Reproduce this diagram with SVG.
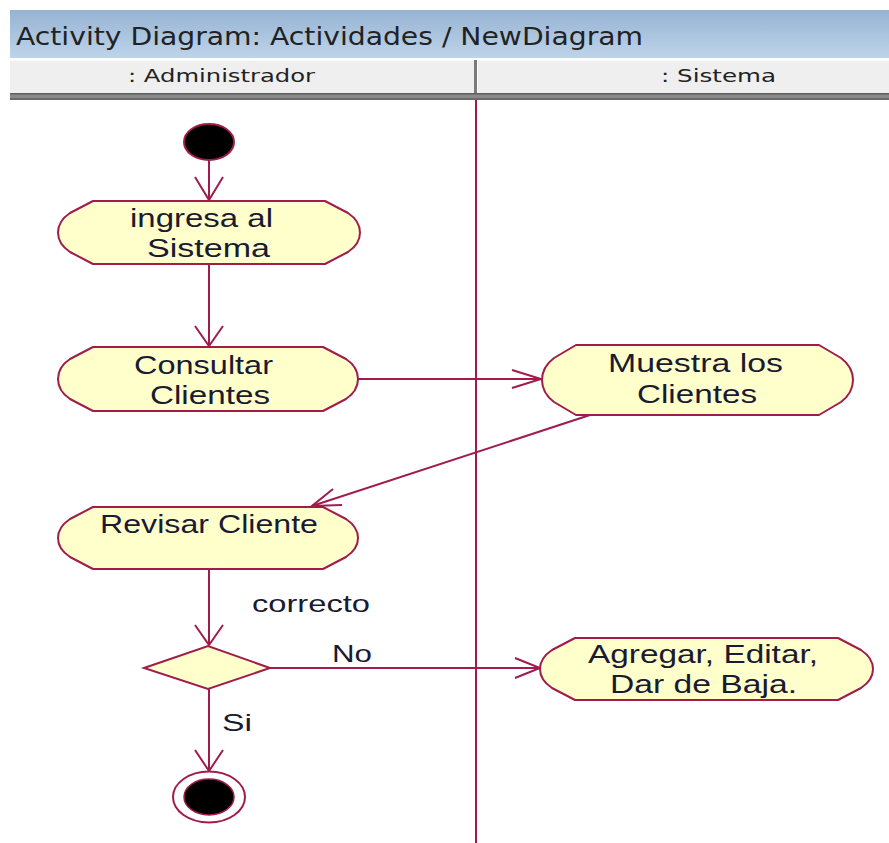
<svg xmlns="http://www.w3.org/2000/svg" width="889" height="843" viewBox="0 0 889 843">
<defs>
<linearGradient id="tb" x1="0" y1="0" x2="0" y2="1">
<stop offset="0" stop-color="#96b3d2"/>
<stop offset="1" stop-color="#bed4ea"/>
</linearGradient>
<style>
.act{fill:#ffffcc;stroke:#a01c4c;stroke-width:2;stroke-linejoin:round}
.ln{fill:none;stroke:#a01c4c;stroke-width:2}
.t{font-family:"Liberation Sans",Arial,sans-serif;font-size:26px;fill:#1a1a30}
.lb{font-family:"Liberation Sans",Arial,sans-serif;font-size:24px;fill:#1a1a30}
.hd{font-family:"DejaVu Sans","Open Sans",sans-serif;fill:#222}
</style>
</defs>
<rect width="889" height="843" fill="#fff"/>
<g id="titlebar">
<rect x="10" y="10" width="879" height="48" fill="url(#tb)"/>
<text class="hd" x="16" y="45" font-size="24" textLength="627" lengthAdjust="spacingAndGlyphs">Activity Diagram: Actividades / NewDiagram</text>
</g>
<g id="header">
<rect x="10" y="60" width="879" height="34" fill="#efefef"/>
<line x1="10" y1="60.5" x2="889" y2="60.5" stroke="#fafafa"/>
<rect x="474" y="60" width="3" height="34" fill="#7a7a7a"/>
<rect x="477" y="60" width="1" height="34" fill="#fff"/>
<rect x="10" y="93" width="879" height="7" fill="#8a8a8a"/>
<rect x="10" y="93" width="879" height="1.5" fill="#5e5e5e"/>
<rect x="10" y="98" width="879" height="2" fill="#6a6a6a"/>
<text class="hd" x="128" y="82" font-size="18" textLength="187" lengthAdjust="spacingAndGlyphs">: Administrador</text>
<text class="hd" x="661" y="82" font-size="18" textLength="115" lengthAdjust="spacingAndGlyphs">: Sistema</text>
</g>
<g id="swimlane">
<line x1="476" y1="100" x2="476" y2="843" stroke="#a01c4c" stroke-width="2"/>
</g>
<g id="connectors">
<line class="ln" x1="209" y1="160" x2="209" y2="200"/>
<polyline class="ln" points="195,177 209,200 223,177"/>
<line class="ln" x1="209" y1="264" x2="209" y2="346"/>
<polyline class="ln" points="195,326 209,346 223,326"/>
<line class="ln" x1="358" y1="379" x2="541" y2="379"/>
<polyline class="ln" points="512,370 541,379 512,388"/>
<line class="ln" x1="590" y1="415" x2="312" y2="506"/>
<polyline class="ln" points="333,489 312,506 342,505"/>
<line class="ln" x1="209" y1="569" x2="209" y2="645"/>
<polyline class="ln" points="195,625 209,645 223,625"/>
<line class="ln" x1="270" y1="668" x2="540" y2="668"/>
<polyline class="ln" points="515,658 540,668 515,678"/>
<line class="ln" x1="209" y1="689" x2="209" y2="771"/>
<polyline class="ln" points="195,750 209,771 223,750"/>
<text class="lb" x="252" y="612" textLength="118" lengthAdjust="spacingAndGlyphs">correcto</text>
<text class="lb" x="332" y="662" textLength="40" lengthAdjust="spacingAndGlyphs">No</text>
<text class="lb" x="222" y="731" textLength="30" lengthAdjust="spacingAndGlyphs">Si</text>
</g>
<g id="start">
<ellipse cx="209" cy="142" rx="25" ry="18" fill="#000" stroke="#a01c4c" stroke-width="2"/>
</g>
<g id="ingresa">
<path class="act" d="M93,201 H325 L348,213 Q360,221 360,232.5 Q360,244 348,252 L325,264 H93 L70,252 Q58,244 58,232.5 Q58,221 70,213 Z"/>
<text class="t" x="130" y="227" textLength="143" lengthAdjust="spacingAndGlyphs">ingresa al</text>
<text class="t" x="147" y="257" textLength="123" lengthAdjust="spacingAndGlyphs">Sistema</text>
</g>
<g id="consultar">
<path class="act" d="M93,347 H323 L346,359 Q358,367 358,379 Q358,391 346,399 L323,411 H93 L70,399 Q58,391 58,379 Q58,367 70,359 Z"/>
<text class="t" x="134" y="374" textLength="139" lengthAdjust="spacingAndGlyphs">Consultar</text>
<text class="t" x="150" y="404" textLength="120" lengthAdjust="spacingAndGlyphs">Clientes</text>
</g>
<g id="muestra">
<path class="act" d="M576,345 H819 L841,358 Q853,367 853,380 Q853,393 841,402 L819,415 H576 L554,402 Q542,393 542,380 Q542,367 554,358 Z"/>
<text class="t" x="608" y="372" textLength="175" lengthAdjust="spacingAndGlyphs">Muestra los</text>
<text class="t" x="637" y="403" textLength="120" lengthAdjust="spacingAndGlyphs">Clientes</text>
</g>
<g id="revisar">
<path class="act" d="M93,507 H323 L346,519 Q358,527 358,538 Q358,549 346,557 L323,569 H93 L70,557 Q58,549 58,538 Q58,527 70,519 Z"/>
<text class="t" x="100" y="533" textLength="218" lengthAdjust="spacingAndGlyphs">Revisar Cliente</text>
</g>
<g id="decision">
<polygon points="144,668 208,646 270,668 208,689" fill="#ffffcc" stroke="#a01c4c" stroke-width="2"/>
</g>
<g id="agregar">
<path class="act" d="M575,638 H838 L861,650 Q873,658 873,669 Q873,680 861,688 L838,700 H575 L552,688 Q540,680 540,669 Q540,658 552,650 Z"/>
<text class="t" x="588" y="663" textLength="230" lengthAdjust="spacingAndGlyphs">Agregar, Editar,</text>
<text class="t" x="610" y="693" textLength="187" lengthAdjust="spacingAndGlyphs">Dar de Baja.</text>
</g>
<g id="end">
<ellipse cx="209" cy="797" rx="36" ry="25.5" fill="#fff" stroke="#a01c4c" stroke-width="2"/>
<ellipse cx="209" cy="797" rx="25" ry="18" fill="#000" stroke="#a01c4c" stroke-width="1.5"/>
</g>
</svg>
